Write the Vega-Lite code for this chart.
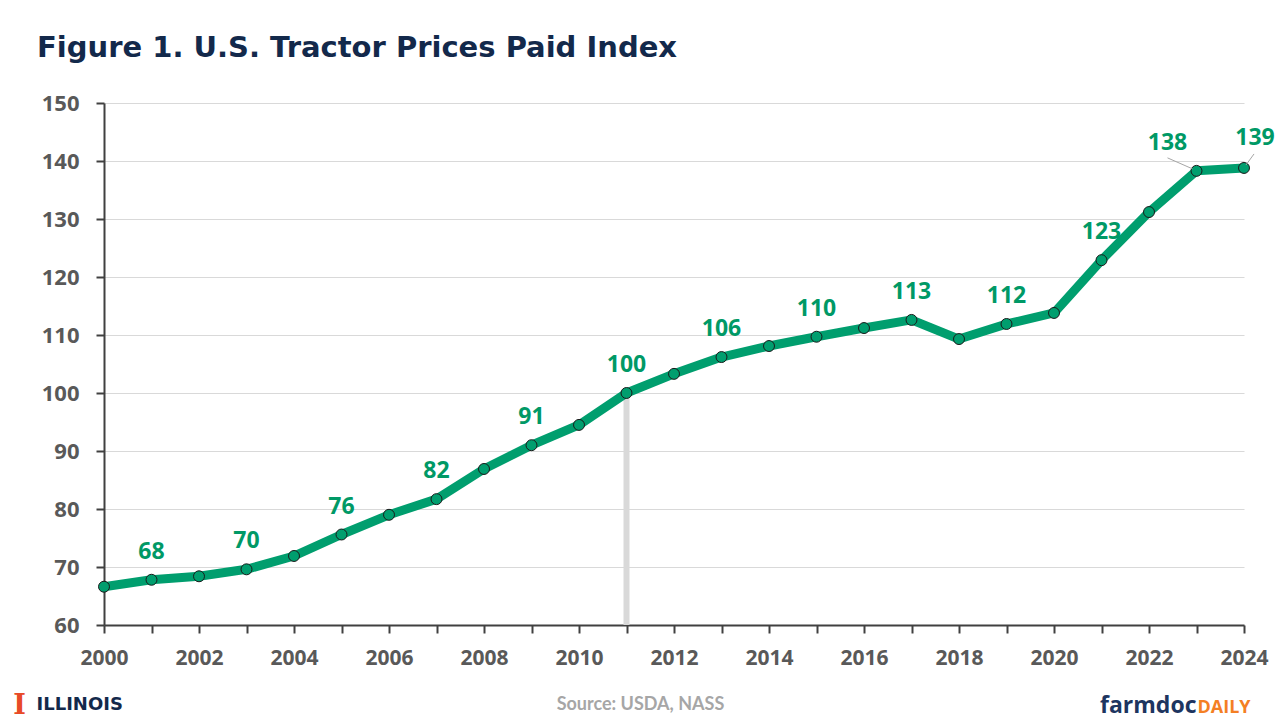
{
  "$schema": "https://vega.github.io/schema/vega-lite/v6.json",
  "width": 1140,
  "height": 522,
  "autosize": {"type": "none"},
  "padding": {"left": 104, "top": 103, "right": 36, "bottom": 95},
  "background": "white",
  "title": {
    "text": "Figure 1. U.S. Tractor Prices Paid Index",
    "anchor": "start",
    "frame": "group",
    "dx": -67,
    "offset": 29,
    "font": "DejaVu Sans",
    "fontSize": 29,
    "fontWeight": "bold",
    "color": "#13294B"
  },
  "config": {"view": {"stroke": null}},
  "data": {
    "values": [
      {"year": 2000, "index": 66.6},
      {"year": 2001, "index": 67.8},
      {"year": 2002, "index": 68.4},
      {"year": 2003, "index": 69.6},
      {"year": 2004, "index": 71.9},
      {"year": 2005, "index": 75.6},
      {"year": 2006, "index": 79.0},
      {"year": 2007, "index": 81.7},
      {"year": 2008, "index": 86.9},
      {"year": 2009, "index": 91.0},
      {"year": 2010, "index": 94.5},
      {"year": 2011, "index": 100.0},
      {"year": 2012, "index": 103.3},
      {"year": 2013, "index": 106.2},
      {"year": 2014, "index": 108.1},
      {"year": 2015, "index": 109.7},
      {"year": 2016, "index": 111.2},
      {"year": 2017, "index": 112.6},
      {"year": 2018, "index": 109.3},
      {"year": 2019, "index": 111.9},
      {"year": 2020, "index": 113.8},
      {"year": 2021, "index": 122.9},
      {"year": 2022, "index": 131.2},
      {"year": 2023, "index": 138.3},
      {"year": 2024, "index": 138.8}
    ]
  },
  "resolve": {"axis": {"x": "independent"}},
  "encoding": {
    "y": {
      "field": "index",
      "type": "quantitative",
      "scale": {"domain": [60, 150], "nice": false, "zero": false},
      "axis": {
        "title": null,
        "values": [60, 70, 80, 90, 100, 110, 120, 130, 140, 150],
        "grid": true,
        "gridColor": "#d9d9d9",
        "gridWidth": 1,
        "domainColor": "#404040",
        "domainWidth": 2,
        "tickColor": "#404040",
        "tickWidth": 2,
        "tickSize": 8,
        "labelPadding": 17,
        "labelFont": "Open Sans",
        "labelFontSize": 22,
        "labelFontWeight": "bold",
        "labelColor": "#595959"
      }
    }
  },
  "layer": [
    {
      "transform": [{"filter": "datum.year == 2011"}],
      "mark": {"type": "rule", "color": "#d9d9d9", "strokeWidth": 6},
      "encoding": {
        "x": {
          "field": "year", "type": "quantitative",
          "scale": {"domain": [2000, 2024], "nice": false, "zero": false},
          "axis": {
            "orient": "bottom", "labels": false, "ticks": false, "domain": false, "grid": false,
            "title": "ILLINOIS", "titleX": -68, "titleY": 79, "titleAlign": "left", "titleBaseline": "middle",
            "titleFont": "DejaVu Sans", "titleFontSize": 18, "titleFontWeight": "bold", "titleColor": "#13294B"
          }
        },
        "y": {"field": "index", "type": "quantitative"},
        "y2": {"datum": 60}
      }
    },
    {
      "mark": {"type": "line", "color": "#009e6e", "strokeWidth": 9, "strokeJoin": "round"},
      "encoding": {
        "x": {
          "field": "year", "type": "quantitative",
          "scale": {"domain": [2000, 2024], "nice": false, "zero": false},
          "axis": {
            "orient": "bottom",
            "values": [2000, 2001, 2002, 2003, 2004, 2005, 2006, 2007, 2008, 2009, 2010, 2011, 2012, 2013, 2014, 2015, 2016, 2017, 2018, 2019, 2020, 2021, 2022, 2023, 2024],
            "format": "d",
            "labelExpr": "datum.value % 2 == 0 ? datum.label : ''",
            "labelOverlap": false,
            "labelFlush": false,
            "grid": false,
            "domainColor": "#404040",
            "domainWidth": 2,
            "tickColor": "#404040",
            "tickWidth": 2,
            "tickSize": 8,
            "labelPadding": 14,
            "labelFont": "Open Sans",
            "labelFontSize": 21,
            "labelFontWeight": "bold",
            "labelColor": "#595959",
            "title": "Source: USDA, NASS",
            "titleX": 536, "titleY": 79, "titleAlign": "center", "titleBaseline": "middle",
            "titleFont": "Lato", "titleFontSize": 18, "titleFontWeight": "bold", "titleColor": "#a6a6a6"
          }
        }
      }
    },
    {
      "mark": {"type": "circle", "size": 120, "opacity": 1, "color": "#009e6e", "stroke": "#1a1a1a", "strokeWidth": 1},
      "encoding": {
        "x": {
          "field": "year", "type": "quantitative",
          "scale": {"domain": [2000, 2024], "nice": false, "zero": false},
          "axis": {
            "orient": "bottom", "labels": false, "ticks": false, "domain": false, "grid": false,
            "title": "I", "titleX": -85, "titleY": 80, "titleAlign": "center", "titleBaseline": "middle",
            "titleFont": "DejaVu Serif", "titleFontSize": 27, "titleFontWeight": "bold", "titleColor": "#E84A27"
          }
        }
      }
    },
    {
      "transform": [{"filter": "datum.year % 2 == 1 && datum.year != 2023"}],
      "mark": {"type": "text", "dy": -28, "baseline": "middle", "align": "center", "font": "Open Sans", "fontSize": 23, "fontWeight": "bold", "color": "#009966"},
      "encoding": {
        "x": {
          "field": "year", "type": "quantitative",
          "scale": {"domain": [2000, 2024], "nice": false, "zero": false},
          "axis": {
            "orient": "bottom", "labels": false, "ticks": false, "domain": false, "grid": false,
            "title": "farmdoc", "titleX": 1092, "titleY": 87, "titleAlign": "right", "titleBaseline": "alphabetic",
            "titleFont": "Open Sans", "titleFontSize": 23, "titleFontWeight": "bold", "titleColor": "#1d3560"
          }
        },
        "text": {"field": "index", "type": "quantitative", "format": ".0f"}
      }
    },
    {
      "transform": [{"filter": "datum.year == 2023"}],
      "mark": {"type": "text", "dx": -29, "dy": -28, "baseline": "middle", "align": "center", "font": "Open Sans", "fontSize": 23, "fontWeight": "bold", "color": "#009966"},
      "encoding": {
        "x": {
          "field": "year", "type": "quantitative",
          "scale": {"domain": [2000, 2024], "nice": false, "zero": false},
          "axis": {
            "orient": "bottom", "labels": false, "ticks": false, "domain": false, "grid": false,
            "title": "DAILY", "titleX": 1093, "titleY": 87, "titleAlign": "left", "titleBaseline": "alphabetic",
            "titleFont": "Open Sans", "titleFontSize": 18, "titleFontWeight": "bold", "titleColor": "#f47f24"
          }
        },
        "text": {"field": "index", "type": "quantitative", "format": ".0f"}
      }
    },
    {
      "transform": [{"filter": "datum.year == 2024"}],
      "mark": {"type": "text", "dx": 11, "dy": -30, "baseline": "middle", "align": "center", "font": "Open Sans", "fontSize": 23, "fontWeight": "bold", "color": "#009966"},
      "encoding": {
        "x": {"field": "year", "type": "quantitative", "scale": {"domain": [2000, 2024], "nice": false, "zero": false}, "axis": null},
        "text": {"field": "index", "type": "quantitative", "format": ".0f"}
      }
    },
    {
      "transform": [{"filter": "datum.year == 2023"}],
      "mark": {"type": "rule", "color": "#a6a6a6", "strokeWidth": 1, "xOffset": -4, "yOffset": -2, "x2Offset": -29, "y2Offset": -13},
      "encoding": {
        "x": {"field": "year", "type": "quantitative", "scale": {"domain": [2000, 2024], "nice": false, "zero": false}, "axis": null},
        "x2": {"field": "year"},
        "y2": {"field": "index"}
      }
    },
    {
      "transform": [{"filter": "datum.year == 2024"}],
      "mark": {"type": "rule", "color": "#a6a6a6", "strokeWidth": 1, "xOffset": 2, "yOffset": -3, "x2Offset": 10, "y2Offset": -14},
      "encoding": {
        "x": {"field": "year", "type": "quantitative", "scale": {"domain": [2000, 2024], "nice": false, "zero": false}, "axis": null},
        "x2": {"field": "year"},
        "y2": {"field": "index"}
      }
    }
  ]
}
